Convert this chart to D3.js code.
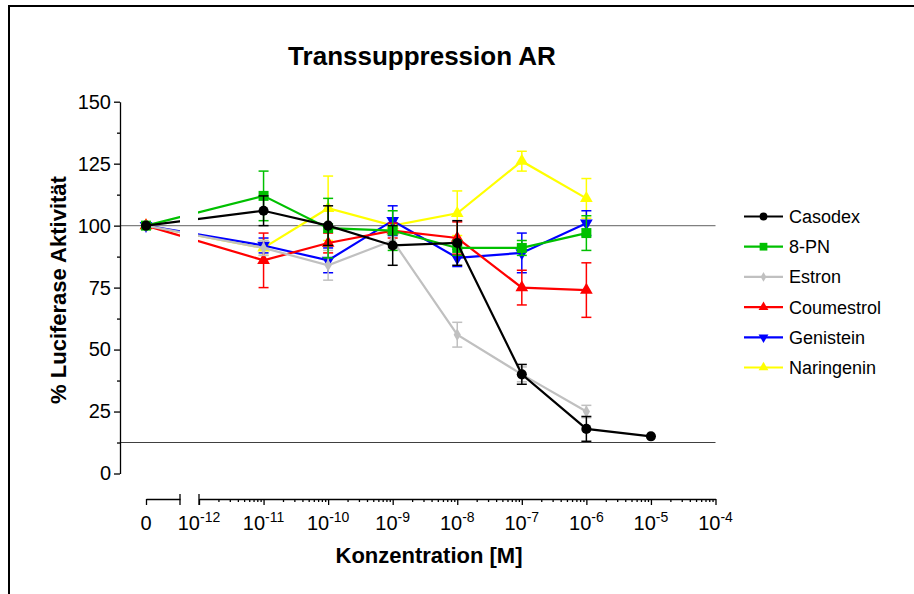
<!DOCTYPE html>
<html>
<head>
<meta charset="utf-8">
<script src="https://cdn.jsdelivr.net/npm/d3@7"></script>
<style>
  html, body { margin: 0; padding: 0; background: #fff; }
  svg { display: block; }
  text { font-family: "Liberation Sans", Arial, sans-serif; fill: #000; }
</style>
</head>
<body>
<svg id="chart" width="914" height="594"></svg>
<script>
// ---------------- data ----------------
const concentrations = [0, 1e-11, 1e-10, 1e-9, 1e-8, 1e-7, 1e-6, 1e-5];
const seriesNames = ["Casodex", "8-PN", "Estron", "Coumestrol", "Genistein", "Naringenin"];
const seriesColors = ["#000000", "#00c000", "#c0c0c0", "#ff0000", "#0000ff", "#ffff00"];
const seriesSymbols = ["circle", "square", "diamond", "triangleUp", "triangleDown", "triangleUp"];

const casodexMean     = [100, 106, 100, 92, 93, 40, 18, 15];
const casodexErr      = [0, 6, 8, 8, 9, 4, 5, 0];
const pn8Mean         = [100, 112, 99, 98, 91, 91, 97, null];
const pn8Err          = [0, 10, 12, 8, 3, 3, 7, null];
const estronMean      = [100, 91, 84, 94, 56, 40, 25, null];
const estronErr       = [0, 3, 6, 3, 5, 3, 2.5, null];
const coumestrolMean  = [100, 86, 93, 98, 95, 75, 74, null];
const coumestrolErr   = [0, 11, 4, 3, 6.5, 7, 11, null];
const genisteinMean   = [100, 92, 86, 102, 87, 89, 101, null];
const genisteinErr    = [0, 3, 5, 6, 3.5, 8, 5, null];
const naringeninMean  = [100, 91, 107, 100, 105, 126, 111, null];
const naringeninErr   = [0, 3, 13, 3, 9, 4, 8, null];

const yTicks = [0, 25, 50, 75, 100, 125, 150];
const yMinorTicks = [12.5, 37.5, 62.5, 87.5, 112.5, 137.5];
const xDecades = [-12, -11, -10, -9, -8, -7, -6, -5, -4];
const referenceLines = [100, 12.5];

const title = "Transsuppression AR";
const xTitle = "Konzentration [M]";
const yTitle = "% Luciferase Aktivität";

// ---------------- build ----------------
const means = [casodexMean, pn8Mean, estronMean, coumestrolMean, genisteinMean, naringeninMean];
const errs  = [casodexErr, pn8Err, estronErr, coumestrolErr, genisteinErr, naringeninErr];
const series = seriesNames.map((name, i) => ({
  name, color: seriesColors[i], symbol: seriesSymbols[i],
  points: concentrations.map((c, j) => ({ c, v: means[i][j], e: errs[i][j] })).filter(p => p.v !== null)
}));

const svg = d3.select("#chart");

// outer frame
svg.append("rect").attr("x", 9).attr("y", 6).attr("width", 930).attr("height", 620)
  .attr("fill", "none").attr("stroke", "#000").attr("stroke-width", 2);

const y = d3.scaleLinear().domain([0, 150]).range([473.5, 101.7]);
const xLog = d3.scaleLog().domain([1e-12, 1e-4]).range([199, 715.5]);
const xZero = d3.scaleLinear().domain([0, 1]).range([146, 180]);
const xPos = c => c === 0 ? xZero(0) : xLog(c);
const axisY = 499;
const plotLeft = 120;

const symbolType = {
  circle: d3.symbolCircle, square: d3.symbolSquare, diamond: d3.symbolDiamond,
  triangleUp: d3.symbolTriangle, triangleDown: d3.symbolTriangle
};
const symbolSize = { circle: 80, square: 100, diamond: 45, triangleUp: 70, triangleDown: 70 };

// title
svg.append("text").attr("x", 422).attr("y", 65).attr("text-anchor", "middle")
  .attr("font-size", 26).attr("font-weight", "bold").text(title);

// reference lines
svg.selectAll(".ref").data(referenceLines).enter().append("line")
  .attr("x1", plotLeft).attr("x2", xLog(1e-4))
  .attr("y1", d => y(d)).attr("y2", d => y(d))
  .attr("stroke", (d, i) => i === 0 ? "#808080" : "#404040").attr("stroke-width", 1.2);

// Y axis
const gy = svg.append("g").attr("transform", `translate(${plotLeft},0)`)
  .call(d3.axisLeft(y).tickValues(yTicks).tickSize(6).tickSizeOuter(0).tickPadding(3));
gy.selectAll("text").attr("font-size", 20).style("font-family", "Liberation Sans, Arial, sans-serif");
const gyMinor = svg.append("g").attr("transform", `translate(${plotLeft},0)`)
  .call(d3.axisLeft(y).tickValues(yMinorTicks).tickSize(3).tickFormat(""));
gyMinor.select(".domain").remove();

// X axis: zero segment
const gx0 = svg.append("g").attr("transform", `translate(0,${axisY})`)
  .call(d3.axisBottom(xZero).tickValues([0]).tickSize(6).tickSizeOuter(0).tickFormat(""));
gx0.append("line").attr("x1", xZero(1)).attr("x2", xZero(1)).attr("y1", -5).attr("y2", 6);
svg.append("text").attr("x", xZero(0)).attr("y", axisY + 31).attr("text-anchor", "middle")
  .attr("font-size", 20).text("0");

// X axis: log segment
const gx = svg.append("g").attr("transform", `translate(0,${axisY})`)
  .call(d3.axisBottom(xLog).tickValues(xDecades.map(e => Math.pow(10, e))).tickSize(6).tickSizeOuter(0).tickFormat(""));
gx.append("line").attr("x1", xLog(1e-12)).attr("x2", xLog(1e-12)).attr("y1", -5).attr("y2", 6);
const minors = [];
xDecades.slice(0, -1).forEach(e => { for (let k = 2; k <= 9; k++) minors.push(k * Math.pow(10, e)); });
const gxMinor = svg.append("g").attr("transform", `translate(0,${axisY})`)
  .call(d3.axisBottom(xLog).tickValues(minors).tickSize(3).tickFormat(""));
gxMinor.select(".domain").remove();
svg.selectAll("g path.domain, g .tick line, g > line").attr("stroke", "#000").attr("stroke-width", 1.3);

const xl = svg.append("g").selectAll("text").data(xDecades).enter().append("text")
  .attr("x", d => xLog(Math.pow(10, d))).attr("y", axisY + 31).attr("text-anchor", "middle")
  .attr("font-size", 20);
xl.append("tspan").text("10");
xl.append("tspan").attr("font-size", 14).attr("dy", -8).text(d => String(d));

// axis titles
svg.append("text").attr("x", 429).attr("y", 563).attr("text-anchor", "middle")
  .attr("font-size", 22).attr("font-weight", "bold").text(xTitle);
svg.append("text").attr("transform", `translate(66,290) rotate(-90)`).attr("text-anchor", "middle")
  .attr("font-size", 22).attr("font-weight", "bold").text(yTitle);

// clip for axis break
const defs = svg.append("defs");
const clip = defs.append("clipPath").attr("id", "breakclip");
clip.append("rect").attr("x", 0).attr("y", 0).attr("width", 180).attr("height", 594);
clip.append("rect").attr("x", 198).attr("y", 0).attr("width", 716).attr("height", 594);

const line = d3.line().x(p => xPos(p.c)).y(p => y(p.v));

const drawOrder = series.slice().reverse();
const gSeries = svg.append("g");
drawOrder.forEach(s => {
  const g = gSeries.append("g");
  g.append("path").datum(s.points).attr("d", line).attr("fill", "none")
    .attr("stroke", s.color).attr("stroke-width", 2.2).attr("clip-path", "url(#breakclip)");
  const eb = g.selectAll(".eb").data(s.points.filter(p => p.e > 0)).enter().append("g")
    .attr("stroke", s.color).attr("stroke-width", 1.5);
  eb.append("line").attr("x1", p => xPos(p.c)).attr("x2", p => xPos(p.c))
    .attr("y1", p => y(p.v - p.e)).attr("y2", p => y(p.v + p.e));
  eb.append("line").attr("x1", p => xPos(p.c) - 5).attr("x2", p => xPos(p.c) + 5)
    .attr("y1", p => y(p.v + p.e)).attr("y2", p => y(p.v + p.e));
  eb.append("line").attr("x1", p => xPos(p.c) - 5).attr("x2", p => xPos(p.c) + 5)
    .attr("y1", p => y(p.v - p.e)).attr("y2", p => y(p.v - p.e));
  g.selectAll(".m").data(s.points).enter().append("path")
    .attr("d", d3.symbol().type(symbolType[s.symbol]).size(symbolSize[s.symbol]))
    .attr("transform", p => `translate(${xPos(p.c)},${y(p.v)})` + (s.symbol === "triangleDown" ? " rotate(180)" : ""))
    .attr("fill", s.color);
});

// legend
const legend = svg.append("g");
series.forEach((s, i) => {
  const ly = 216.5 + i * 30.2;
  const g = legend.append("g").attr("transform", `translate(0,${ly})`);
  g.append("line").attr("x1", 744).attr("x2", 783).attr("y1", 0).attr("y2", 0)
    .attr("stroke", s.color).attr("stroke-width", 2.2);
  g.append("path").attr("d", d3.symbol().type(symbolType[s.symbol]).size(symbolSize[s.symbol] * 0.6))
    .attr("transform", `translate(763.5,0)` + (s.symbol === "triangleDown" ? " rotate(180)" : ""))
    .attr("fill", s.color);
  g.append("text").attr("x", 789).attr("y", 6.5).attr("font-size", 18).text(s.name);
});
</script>
</body>
</html>
